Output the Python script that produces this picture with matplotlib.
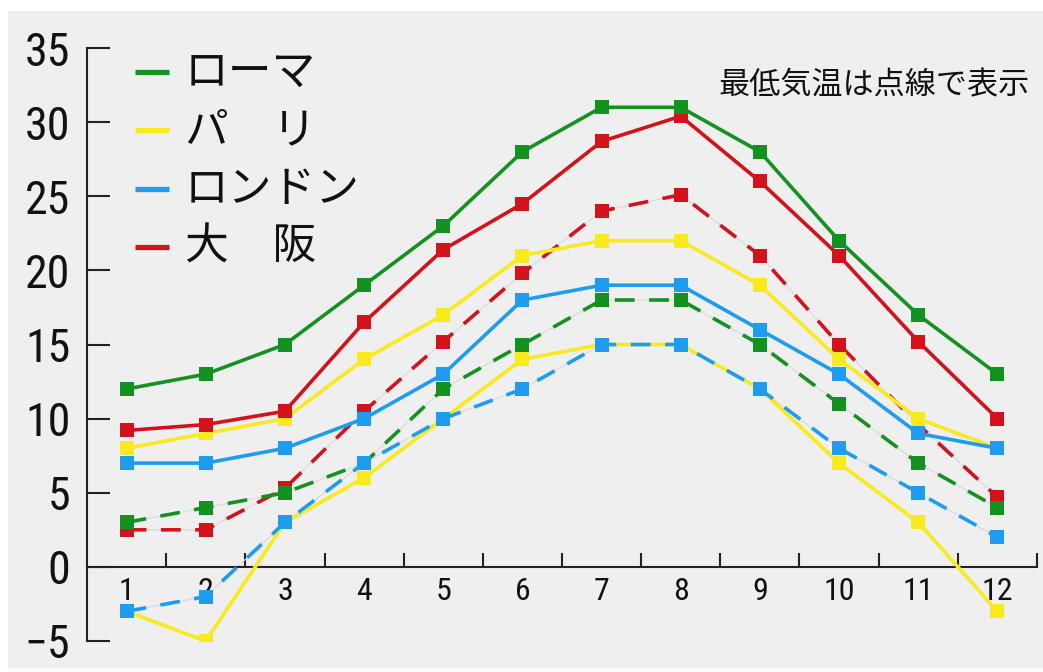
import matplotlib
matplotlib.use("Agg")
import matplotlib.pyplot as plt
from matplotlib.patches import Rectangle

# monthly mean temperatures (deg C)
months = list(range(1, 13))
city_names = ["ローマ", "パ　リ", "ロンドン", "大　阪"]

rome_max = [12, 13, 15, 19, 23, 28, 31, 31, 28, 22, 17, 13]
rome_min = [3, 4, 5, 7, 12, 15, 18, 18, 15, 11, 7, 4]
paris_max = [8, 9, 10, 14, 17, 21, 22, 22, 19, 14, 10, 8]
paris_min = [-3, -5, 3, 6, 10, 14, 15, 15, 12, 7, 3, -3]
london_max = [7, 7, 8, 10, 13, 18, 19, 19, 16, 13, 9, 8]
london_min = [-3, -2, 3, 7, 10, 12, 15, 15, 12, 8, 5, 2]
osaka_max = [9.2, 9.6, 10.5, 16.5, 21.4, 24.5, 28.7, 30.4, 26.0, 21.0, 15.2, 10.0]
osaka_min = [2.5, 2.5, 5.3, 10.5, 15.2, 19.8, 24.0, 25.1, 21.0, 15.0, 9.6, 4.7]

y_ticks = [-5, 0, 5, 10, 15, 20, 25, 30, 35]
note = "最低気温は点線で表示"

GREEN = "#14921f"
YELLOW = "#f9ea1e"
BLUE = "#1d9cf0"
RED = "#d2131c"
AXIS = "#222222"

# narrow digits for the tick labels
NUM_FONT = ["Roboto Condensed", "Archivo Narrow", "Liberation Sans Narrow",
            "DejaVu Sans"]
JP_FONT = ["Noto Sans CJK JP", "DejaVu Sans"]

LW = 2.6
MS = 9.5
DASH = (5.5, 4.0)


def draw_series(ax, ys, color, dashed):
    if dashed:
        # faint guide underneath the dashes
        ax.plot(months, ys, color="#d9d9d9", lw=0.8, zorder=2)
        ax.plot(months, ys, color=color, lw=LW, dashes=DASH, marker="s",
                ms=MS, mew=0, zorder=3)
    else:
        ax.plot(months, ys, color=color, lw=LW, marker="s", ms=MS,
                mew=0, zorder=3)


def main():
    fig = plt.figure(figsize=(10.43, 6.72), dpi=100)
    fig.patches.append(Rectangle((8 / 1043, 4 / 672), 1035 / 1043, 657 / 672,
                                 transform=fig.transFigure,
                                 facecolor="#efefef", edgecolor="none",
                                 zorder=-1))

    ax = fig.add_axes([87 / 1043, 31 / 672, 950 / 1043, 593 / 672])
    ax.set_facecolor("none")

    draw_series(ax, osaka_min, RED, True)
    draw_series(ax, rome_min, GREEN, True)
    draw_series(ax, paris_min, YELLOW, False)
    draw_series(ax, london_min, BLUE, True)
    draw_series(ax, paris_max, YELLOW, False)
    draw_series(ax, london_max, BLUE, False)
    draw_series(ax, osaka_max, RED, False)
    draw_series(ax, rome_max, GREEN, False)

    ax.set_xlim(0.5, 12.5)
    ax.set_ylim(-5, 35)

    for side in ("top", "right"):
        ax.spines[side].set_visible(False)
    ax.spines["bottom"].set_position(("data", 0))
    for side in ("left", "bottom"):
        ax.spines[side].set_color(AXIS)
        ax.spines[side].set_linewidth(1.5)

    ax.set_yticks(y_ticks)
    ax.set_yticklabels([str(v).replace("-", "\u2212") for v in y_ticks],
                       family=NUM_FONT, fontsize=33, color="#111111")
    ax.tick_params(axis="y", direction="in", length=16.5, width=1.5,
                   color=AXIS, pad=12)

    ax.set_xticks(months)
    ax.set_xticklabels([str(m) for m in months], family=NUM_FONT,
                       fontsize=23, color="#111111")
    ax.set_xticks([m + 0.5 for m in months], minor=True)
    ax.tick_params(axis="x", which="major", length=0, pad=7)
    ax.tick_params(axis="x", which="minor", direction="in", length=10,
                   width=1.5, color=AXIS)

    # legend drawn by hand: short swatch + city name
    colors = [GREEN, YELLOW, BLUE, RED]
    for i, (name, color) in enumerate(zip(city_names, colors)):
        y = 0.9595 - i * 0.0984
        ax.plot([0.0505, 0.0863], [y, y], transform=ax.transAxes, color=color,
                lw=3.8, solid_capstyle="butt", clip_on=False)
        ax.text(0.103, y, name, transform=ax.transAxes, family=JP_FONT,
                fontsize=31.5, va="center", ha="left", color="#111111")

    ax.text(0.9926, 0.936, note, transform=ax.transAxes, family=JP_FONT,
            fontsize=22.4, va="center", ha="right", color="#111111")

    fig.savefig("out.png", dpi=100, facecolor="white")


if __name__ == "__main__":
    main()
